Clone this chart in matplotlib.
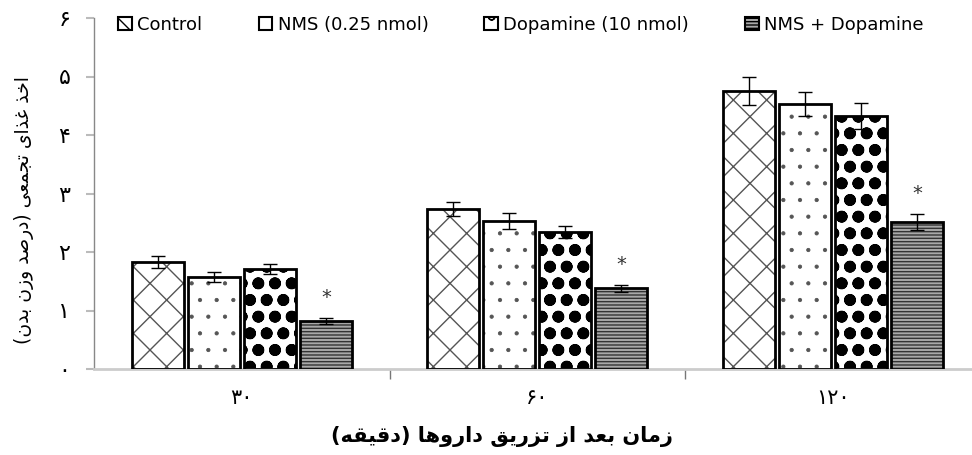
import numpy as np
import matplotlib
matplotlib.use('Agg')
import matplotlib.pyplot as plt
from matplotlib.patches import Patch

# data
groups = ['۳۰', '۶۰', '۱۲۰']
series = ['Control', 'NMS (0.25 nmol)', 'Dopamine (10 nmol)', 'NMS + Dopamine']
control = [1.83, 2.73, 4.75]
control_err = [0.10, 0.12, 0.24]
nms = [1.57, 2.53, 4.53]
nms_err = [0.09, 0.13, 0.20]
dopamine = [1.71, 2.34, 4.32]
dopamine_err = [0.09, 0.10, 0.22]
nms_dopamine = [0.82, 1.38, 2.51]
nms_dopamine_err = [0.05, 0.06, 0.14]
significant = [False, False, False, True]
ytick_labels = ['۰', '۱', '۲', '۳', '۴', '۵', '۶']
ylabel = 'اخذ غذای تجمعی (درصد وزن بدن)'
xlabel = 'زمان بعد از تزریق داروها (دقیقه)'

# minimal arabic/persian shaping (matplotlib has no bidi support)
FORMS = {
    'ا': ('\uFE8D', '\uFE8E', None, None),
    'ب': ('\uFE8F', '\uFE90', '\uFE91', '\uFE92'),
    'ت': ('\uFE95', '\uFE96', '\uFE97', '\uFE98'),
    'ج': ('\uFE9D', '\uFE9E', '\uFE9F', '\uFEA0'),
    'خ': ('\uFEA5', '\uFEA6', '\uFEA7', '\uFEA8'),
    'د': ('\uFEA9', '\uFEAA', None, None),
    'ذ': ('\uFEAB', '\uFEAC', None, None),
    'ر': ('\uFEAD', '\uFEAE', None, None),
    'ز': ('\uFEAF', '\uFEB0', None, None),
    'ص': ('\uFEB9', '\uFEBA', '\uFEBB', '\uFEBC'),
    'ع': ('\uFEC9', '\uFECA', '\uFECB', '\uFECC'),
    'غ': ('\uFECD', '\uFECE', '\uFECF', '\uFED0'),
    'ق': ('\uFED5', '\uFED6', '\uFED7', '\uFED8'),
    'م': ('\uFEE1', '\uFEE2', '\uFEE3', '\uFEE4'),
    'ن': ('\uFEE5', '\uFEE6', '\uFEE7', '\uFEE8'),
    'ه': ('\uFEE9', '\uFEEA', '\uFEEB', '\uFEEC'),
    'و': ('\uFEED', '\uFEEE', None, None),
    'ی': ('\uFBFC', '\uFBFD', '\uFBFE', '\uFBFF'),
}
RIGHT_ONLY = set('ادذرزو')


def shape(text):
    out = []
    for i, c in enumerate(text):
        if c not in FORMS:
            out.append(c)
            continue
        prev = text[i - 1] if i > 0 else ''
        nxt = text[i + 1] if i < len(text) - 1 else ''
        jp = prev in FORMS and prev not in RIGHT_ONLY
        jn = nxt in FORMS and c not in RIGHT_ONLY
        iso, fin, ini, med = FORMS[c]
        if jp and jn:
            out.append(med)
        elif jp:
            out.append(fin)
        elif jn:
            out.append(ini)
        else:
            out.append(iso)
    return ''.join(out)[::-1].translate(str.maketrans('()', ')('))


plt.rcParams['font.family'] = ['DejaVu Sans']

values = [control, nms, dopamine, nms_dopamine]
errors = [control_err, nms_err, dopamine_err, nms_dopamine_err]
hatches = ['x', '.', 'o', '-----']
faces = ['white', 'white', 'white', '#a8a8a8']
hatch_cols = ['#555555', '#555555', 'black', '#333333']
hatch_lws = [1.0, 0.6, 3.8, 1.0]

fig = plt.figure(figsize=(9.72, 4.55), dpi=100)
ax = fig.add_axes([94 / 972, 86 / 455, 878 / 972, 351 / 455])

x = np.arange(len(groups))
width = 0.176
step = 0.19
offsets = (np.arange(4) - 1.5) * step

handles = []
for k in range(4):
    plt.rcParams['hatch.linewidth'] = hatch_lws[k]
    bars = ax.bar(x + offsets[k], values[k], width, color=faces[k],
                  hatch=hatches[k], edgecolor=hatch_cols[k], linewidth=0, zorder=2)
    for b in bars:
        if hasattr(b, 'set_hatch_linewidth'):
            b.set_hatch_linewidth(hatch_lws[k])
    ax.bar(x + offsets[k], values[k], width, fill=False, edgecolor='black',
           linewidth=2, zorder=3)
    ax.errorbar(x + offsets[k], values[k], yerr=errors[k], fmt='none',
                ecolor='black', elinewidth=1, capsize=5, capthick=1, zorder=4)
    if significant[k]:
        for xi, v, e in zip(x, values[k], errors[k]):
            ax.text(xi + offsets[k], v + e + 0.35, '*', ha='center', va='center',
                    fontsize=14, color='#333333')
    plt.rcParams['hatch.linewidth'] = 1.0
    h = Patch(facecolor=faces[k], edgecolor='black', hatch=hatches[k], linewidth=1.5)
    handles.append(h)

ax.set_ylim(0, 6)
ax.set_xlim(-0.5, -0.5 + 878 / 295.5)
ax.set_yticks(range(7))
ax.set_yticklabels(ytick_labels, fontsize=16)
ax.set_xticks(x)
ax.set_xticklabels(groups, fontsize=15)
ax.set_xticks([0.5, 1.5], minor=True)
ax.tick_params(axis='x', which='major', length=0, pad=14)
ax.tick_params(axis='x', which='minor', length=7, color='#777777', width=1)
ax.tick_params(axis='y', length=6, color='#bbbbbb', width=1.5, pad=11)

for s in ['top', 'right']:
    ax.spines[s].set_visible(False)
ax.spines['left'].set_color('#888888')
ax.spines['left'].set_linewidth(1)
ax.spines['bottom'].set_color('#cccccc')
ax.spines['bottom'].set_linewidth(2)

ax.set_ylabel(shape(ylabel), fontsize=13.5)
ax.yaxis.set_label_coords(-60 / 878, 0.453)
ax.set_xlabel(shape(xlabel), fontsize=15, fontweight='bold')
ax.xaxis.set_label_coords(0.465, -57 / 351)

fig.legend(handles, series, loc='center', ncol=4, bbox_to_anchor=(0.536, 0.945),
           frameon=False, prop={'size': 13},
           handlelength=0.75, handleheight=0.75, handletextpad=0.3, columnspacing=3.1)

fig.savefig('out.png', dpi=100)
